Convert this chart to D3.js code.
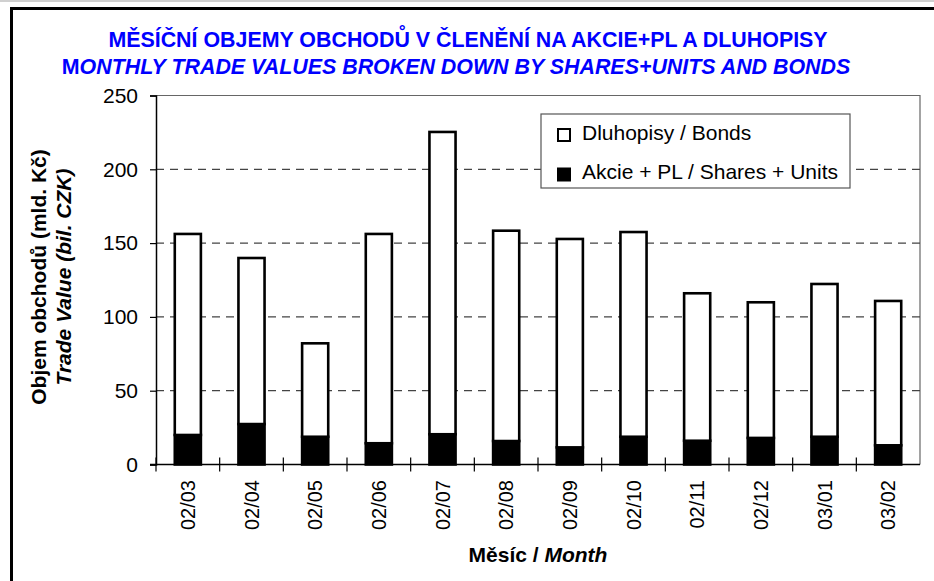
<!DOCTYPE html>
<html>
<head>
<meta charset="utf-8">
<script src="https://cdn.jsdelivr.net/npm/d3@7"></script>
<style>
  body { margin: 0; background: #fff; }
  svg text { font-family: "Liberation Sans", Arial, sans-serif; }
</style>
</head>
<body>
<div class="wrapper"></div>
<script>
// months and values (mld. Kč)
var months = ["02/03", "02/04", "02/05", "02/06", "02/07", "02/08", "02/09", "02/10", "02/11", "02/12", "03/01", "03/02"];
var shares = [20.0, 27.4, 18.8, 14.4, 20.5, 15.9, 11.6, 18.8, 16.1, 18.0, 18.8, 13.0];
var bonds = [136.2, 112.5, 63.3, 141.8, 204.8, 142.5, 141.2, 138.7, 99.9, 91.9, 103.5, 97.8];
var yTicks = [0, 50, 100, 150, 200, 250];
var seriesKeys = ["shares", "bonds"];
var legendLabels = ["Dluhopisy / Bonds", "Akcie + PL / Shares + Units"];

var width = 934,
    height = 581;

var plot = {left: 156, right: 920, top: 95.5, bottom: 464.5};

var svg = d3.select(".wrapper").append("svg")
    .attr("width", width)
    .attr("height", height);

// outer frame (only top & left show, rest is cut off)
svg.append("rect")
    .attr("x", 0).attr("y", 0)
    .attr("width", width).attr("height", 2)
    .attr("fill", "#d0d0d0");
svg.append("path")
    .attr("d", "M11.5," + height + "V8.5H" + width)
    .attr("fill", "none")
    .attr("stroke", "#000")
    .attr("stroke-width", 3);

// titles
var title = svg.append("g")
    .attr("fill", "#0000ff")
    .attr("font-weight", "bold")
    .attr("font-size", "21.4px")
    .attr("text-anchor", "middle");
title.append("text")
    .attr("x", 468).attr("y", 47)
    .text("MĚSÍČNÍ OBJEMY OBCHODŮ V ČLENĚNÍ NA AKCIE+PL A DLUHOPISY");
var t2 = title.append("text")
    .attr("x", 456).attr("y", 74);
t2.append("tspan").text("M");
t2.append("tspan").attr("font-style", "italic").text("ONTHLY TRADE VALUES BROKEN DOWN BY SHARES+UNITS AND BONDS");

var x = d3.scaleBand()
    .domain(months)
    .range([plot.left, plot.right])
    .paddingInner(0.59)
    .paddingOuter(0.295);

var y = d3.scaleLinear()
    .domain([0, 250])
    .range([plot.bottom, plot.top]);

// plot frame
svg.append("path")
    .attr("d", "M" + plot.left + "," + plot.top + "H" + plot.right + "V" + plot.bottom)
    .attr("fill", "none")
    .attr("stroke", "#666")
    .attr("stroke-width", 1.2);

// dashed grid
svg.append("g")
    .selectAll("line")
    .data(yTicks.filter(function(d) { return d > 0 && d < 250; }))
    .enter().append("line")
    .attr("x1", plot.left).attr("x2", plot.right)
    .attr("y1", function(d) { return y(d); })
    .attr("y2", function(d) { return y(d); })
    .attr("stroke", "#444")
    .attr("stroke-width", 1.2)
    .attr("stroke-dasharray", "8,6");

// stacked bars
var table = months.map(function(m, i) {
    return {month: m, shares: shares[i], bonds: bonds[i]};
});
var stacked = d3.stack().keys(seriesKeys)(table);

svg.append("g")
    .selectAll("g")
    .data(stacked)
    .enter().append("g")
    .attr("fill", function(d) { return d.key === "shares" ? "#000" : "#fff"; })
    .selectAll("rect")
    .data(function(d) { return d; })
    .enter().append("rect")
    .attr("x", function(d) { return x(d.data.month); })
    .attr("width", x.bandwidth())
    .attr("y", function(d) { return y(d[1]); })
    .attr("height", function(d) { return y(d[0]) - y(d[1]); })
    .attr("stroke", "#000")
    .attr("stroke-width", 2.6);

// y axis
var yAxis = svg.append("g")
    .attr("transform", "translate(" + plot.left + ",0)")
    .call(d3.axisLeft(y).tickValues(yTicks).tickSize(6).tickPadding(12));
yAxis.select(".domain").attr("stroke", "#000").attr("stroke-width", 1.5);
yAxis.selectAll(".tick line").attr("stroke", "#000").attr("stroke-width", 1.2);
yAxis.selectAll(".tick text")
    .attr("font-size", "21px")
    .attr("font-family", "Liberation Sans, Arial, sans-serif")
    .attr("fill", "#000");

// x axis with ticks between months
svg.append("line")
    .attr("x1", plot.left - 6).attr("x2", plot.right)
    .attr("y1", plot.bottom).attr("y2", plot.bottom)
    .attr("stroke", "#000").attr("stroke-width", 1.5);
svg.append("g")
    .selectAll("line")
    .data(months)
    .enter().append("line")
    .attr("x1", function(d) { return x(d) - x.step() * x.paddingInner() / 2; })
    .attr("x2", function(d) { return x(d) - x.step() * x.paddingInner() / 2; })
    .attr("y1", plot.bottom - 7).attr("y2", plot.bottom + 7)
    .attr("stroke", "#000").attr("stroke-width", 1.2);

svg.append("g")
    .selectAll("text")
    .data(months)
    .enter().append("text")
    .attr("transform", function(d) {
        return "translate(" + (x(d) + x.bandwidth() / 2) + ",480) rotate(-90)";
    })
    .attr("text-anchor", "end")
    .attr("dy", "0.35em")
    .attr("font-size", "20px")
    .text(function(d) { return d; });

// axis titles
var xTitle = svg.append("text")
    .attr("x", (plot.left + plot.right) / 2).attr("y", 562)
    .attr("text-anchor", "middle")
    .attr("font-size", "21px")
    .attr("font-weight", "bold");
xTitle.append("tspan").text("Měsíc / ");
xTitle.append("tspan").attr("font-style", "italic").text("Month");

var yMid = 277;
svg.append("text")
    .attr("transform", "translate(46," + yMid + ") rotate(-90)")
    .attr("text-anchor", "middle")
    .attr("font-size", "21px")
    .attr("font-weight", "bold")
    .text("Objem obchodů (mld. Kč)");
svg.append("text")
    .attr("transform", "translate(71," + yMid + ") rotate(-90)")
    .attr("text-anchor", "middle")
    .attr("font-size", "21px")
    .attr("font-weight", "bold")
    .attr("font-style", "italic")
    .text("Trade Value (bil. CZK)");

// legend
var legend = svg.append("g").attr("transform", "translate(541,114)");
legend.append("rect")
    .attr("width", 309).attr("height", 74)
    .attr("fill", "#fff")
    .attr("stroke", "#555")
    .attr("stroke-width", 1.2);
var items = legend.selectAll(".item")
    .data(legendLabels)
    .enter().append("g")
    .attr("transform", function(d, i) { return "translate(17," + (21 + i * 39.5) + ")"; });
items.append("rect")
    .attr("width", 12).attr("height", 12)
    .attr("y", -6)
    .attr("fill", function(d, i) { return i === 0 ? "#fff" : "#000"; })
    .attr("stroke", "#000")
    .attr("stroke-width", 2);
items.append("text")
    .attr("x", 24)
    .attr("y", 4.5)
    .attr("font-size", "21px")
    .text(function(d) { return d; });
</script>
</body>
</html>
